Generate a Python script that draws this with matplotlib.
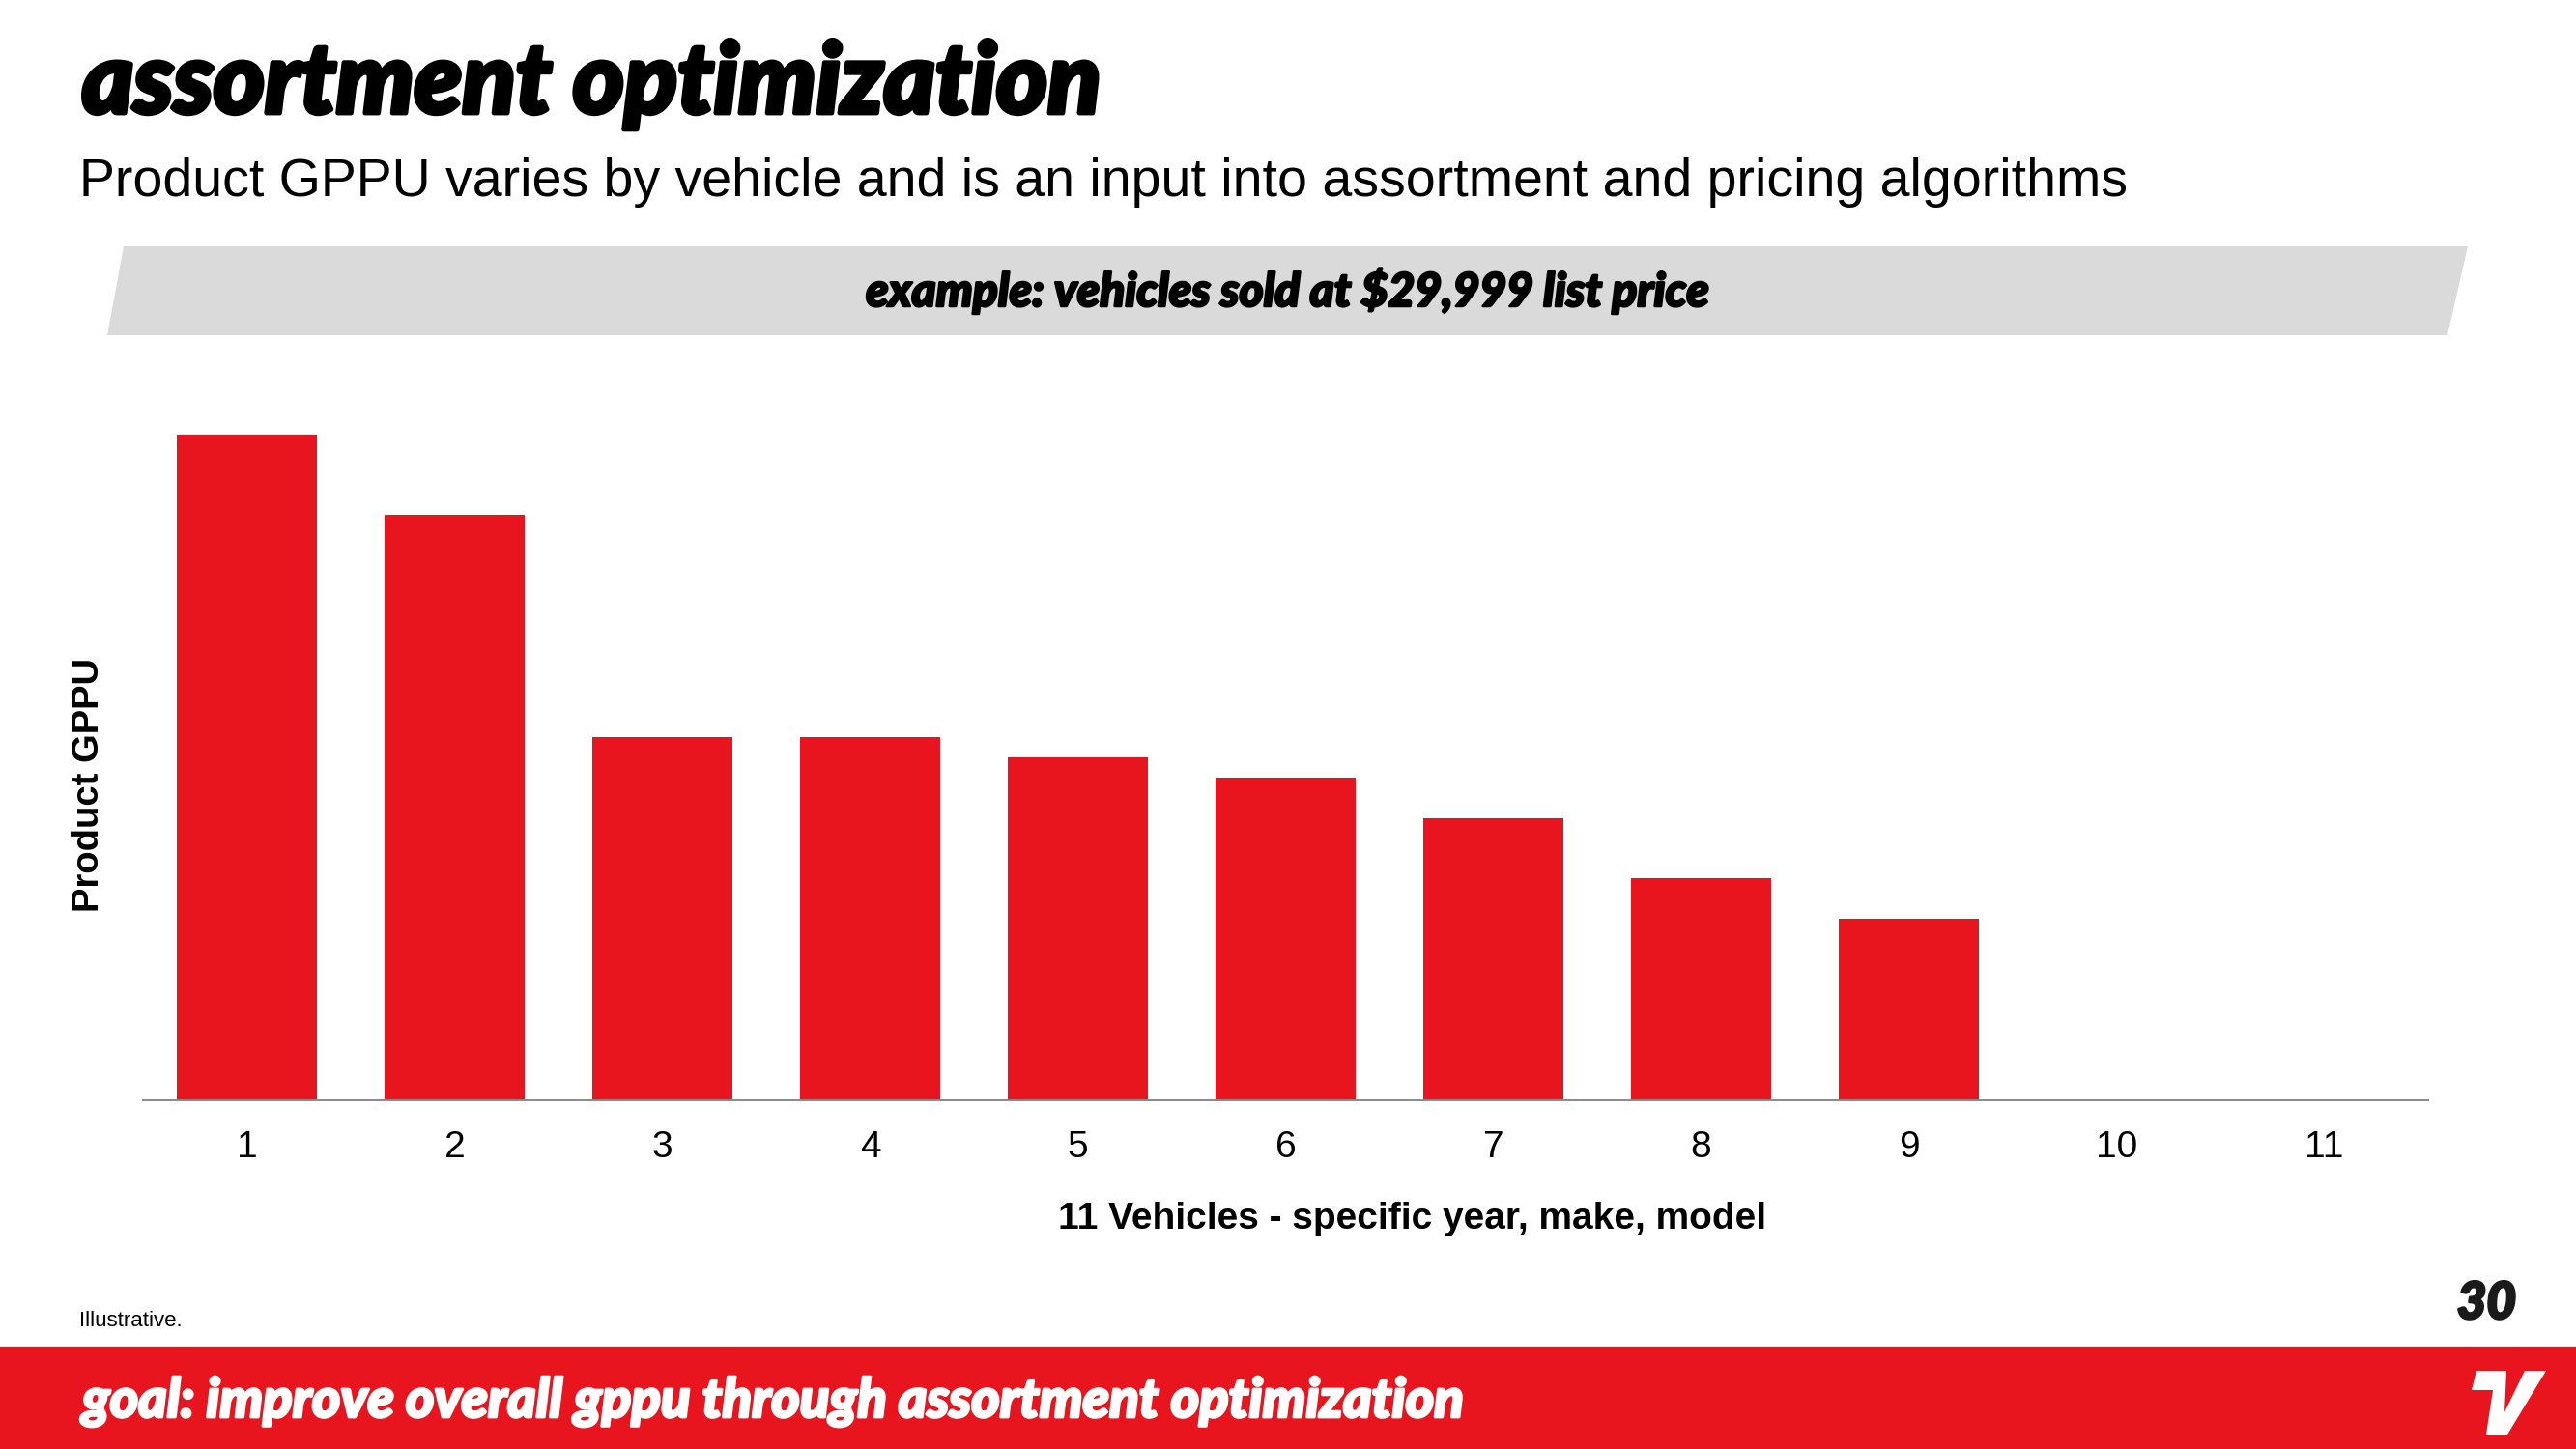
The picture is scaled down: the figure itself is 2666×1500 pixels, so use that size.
import matplotlib
matplotlib.use("Agg")
import matplotlib.pyplot as plt
import matplotlib.patheffects as pe
from matplotlib import font_manager
from matplotlib.font_manager import FontProperties
from matplotlib.patches import Polygon, Rectangle
import numpy as np

# data (units are arbitrary, chart is illustrative)
vehicles = ["1", "2", "3", "4", "5", "6", "7", "8", "9", "10", "11"]
gppu = [3300, 2900, 1800, 1800, 1700, 1600, 1400, 1100, 900, 0, 0]

title = "assortment optimization"
subtitle = "Product GPPU varies by vehicle and is an input into assortment and pricing algorithms"
banner = "example: vehicles sold at $29,999 list price"
xlab = "11 Vehicles - specific year, make, model"
ylab = "Product GPPU"
footer = "goal: improve overall gppu through assortment optimization"
note = "Illustrative."
page = "30"

RED = "#E8141E"
GRAY_BANNER = "#DADADA"


def weight_num(w):
    if isinstance(w, (int, float)):
        return int(w)
    return font_manager.weight_dict.get(w, 400)


# pick the heaviest italic face that is installed (slide uses a black italic)
heavy_file = None
best = (-1, -1)
prefer = ["Lato", "Inter", "Roboto", "Noto Sans", "Open Sans", "DejaVu Sans"]
for f in font_manager.fontManager.ttflist:
    if f.name not in prefer or f.style not in ("italic", "oblique"):
        continue
    score = (weight_num(f.weight), -prefer.index(f.name))
    if score > best:
        best = score
        heavy_file = f.fname


def heavy(size):
    if heavy_file:
        return FontProperties(fname=heavy_file, size=size)
    return FontProperties(family="DejaVu Sans", weight="bold", style="italic", size=size)


def fatten(width, color):
    # a stroke in the text colour makes the bold face look like a black weight
    return [pe.withStroke(linewidth=width, foreground=color)]


W, H = 2666, 1500
fig = plt.figure(figsize=(W / 100, H / 100), dpi=100)


def fx(px):
    return px / W


def fy(py):
    # slide pixels are measured from the top
    return 1 - py / H


# grey slanted banner behind the example caption
fig.patches.append(Polygon([(fx(128), fy(255)), (fx(2554), fy(255)),
                            (fx(2533), fy(347)), (fx(111), fy(347))],
                           closed=True, transform=fig.transFigure,
                           facecolor=GRAY_BANNER, edgecolor="none", zorder=0))

# red footer band
fig.patches.append(Rectangle((0, 0), 1, 106 / H, transform=fig.transFigure,
                             facecolor=RED, edgecolor="none", zorder=0))

# logo mark in the footer
logo = [(2563, 1419), (2594, 1419), (2592, 1462), (2613, 1419), (2635, 1419),
        (2595, 1485), (2573, 1485), (2580, 1439), (2558, 1439)]
fig.patches.append(Polygon([(fx(x), fy(y)) for x, y in logo], closed=True,
                           transform=fig.transFigure, facecolor="white",
                           edgecolor="none", zorder=1))

fig.text(fx(85), fy(117), title, fontproperties=heavy(73),
         va="baseline", ha="left", path_effects=fatten(3.5, "black"))
fig.text(fx(82), fy(203), subtitle, fontsize=40, family="Liberation Sans",
         va="baseline", ha="left")
fig.text(fx(1332), fy(317), banner, fontproperties=heavy(34.5),
         va="baseline", ha="center", path_effects=fatten(1.8, "black"))
fig.text(fx(85), fy(1467), footer, fontproperties=heavy(40.5),
         va="baseline", ha="left", color="white",
         path_effects=fatten(2.0, "white"))
fig.text(fx(82), fy(1373), note, fontsize=16, family="Liberation Sans",
         va="baseline", ha="left")
fig.text(fx(2604), fy(1365), page, fontproperties=heavy(38),
         va="baseline", ha="right", color="#1a1a1a",
         path_effects=fatten(2.0, "#1a1a1a"))

# bar chart
ax = fig.add_axes([fx(148), 361 / H, fx(2513 - 148), 0.5013])
x = np.arange(1, len(vehicles) + 1)
ax.bar(x, gppu, width=0.67, color=RED, zorder=2)
ax.set_xlim(0.5, len(vehicles) + 0.5)
ax.set_ylim(0, 3600)
ax.set_xticks(x)
ax.set_xticklabels(vehicles, fontsize=28, family="Liberation Sans")
ax.set_yticks([])
ax.tick_params(axis="x", length=0, pad=22)
for s in ["top", "right", "left"]:
    ax.spines[s].set_visible(False)
ax.spines["bottom"].set_color("#898989")
ax.spines["bottom"].set_linewidth(1.4)
ax.patch.set_alpha(0)

ax.set_xlabel(xlab, fontsize=28, family="Liberation Sans", weight="bold")
ax.xaxis.set_label_coords(0.5556, -0.1636)
ax.xaxis.label.set_va("center")
ax.set_ylabel(ylab, fontsize=27.5, family="Liberation Sans", weight="bold")
ax.yaxis.set_label_coords(-0.0235, 0.434)
ax.yaxis.label.set_va("center")

fig.savefig("out.png", dpi=100, facecolor="white")
